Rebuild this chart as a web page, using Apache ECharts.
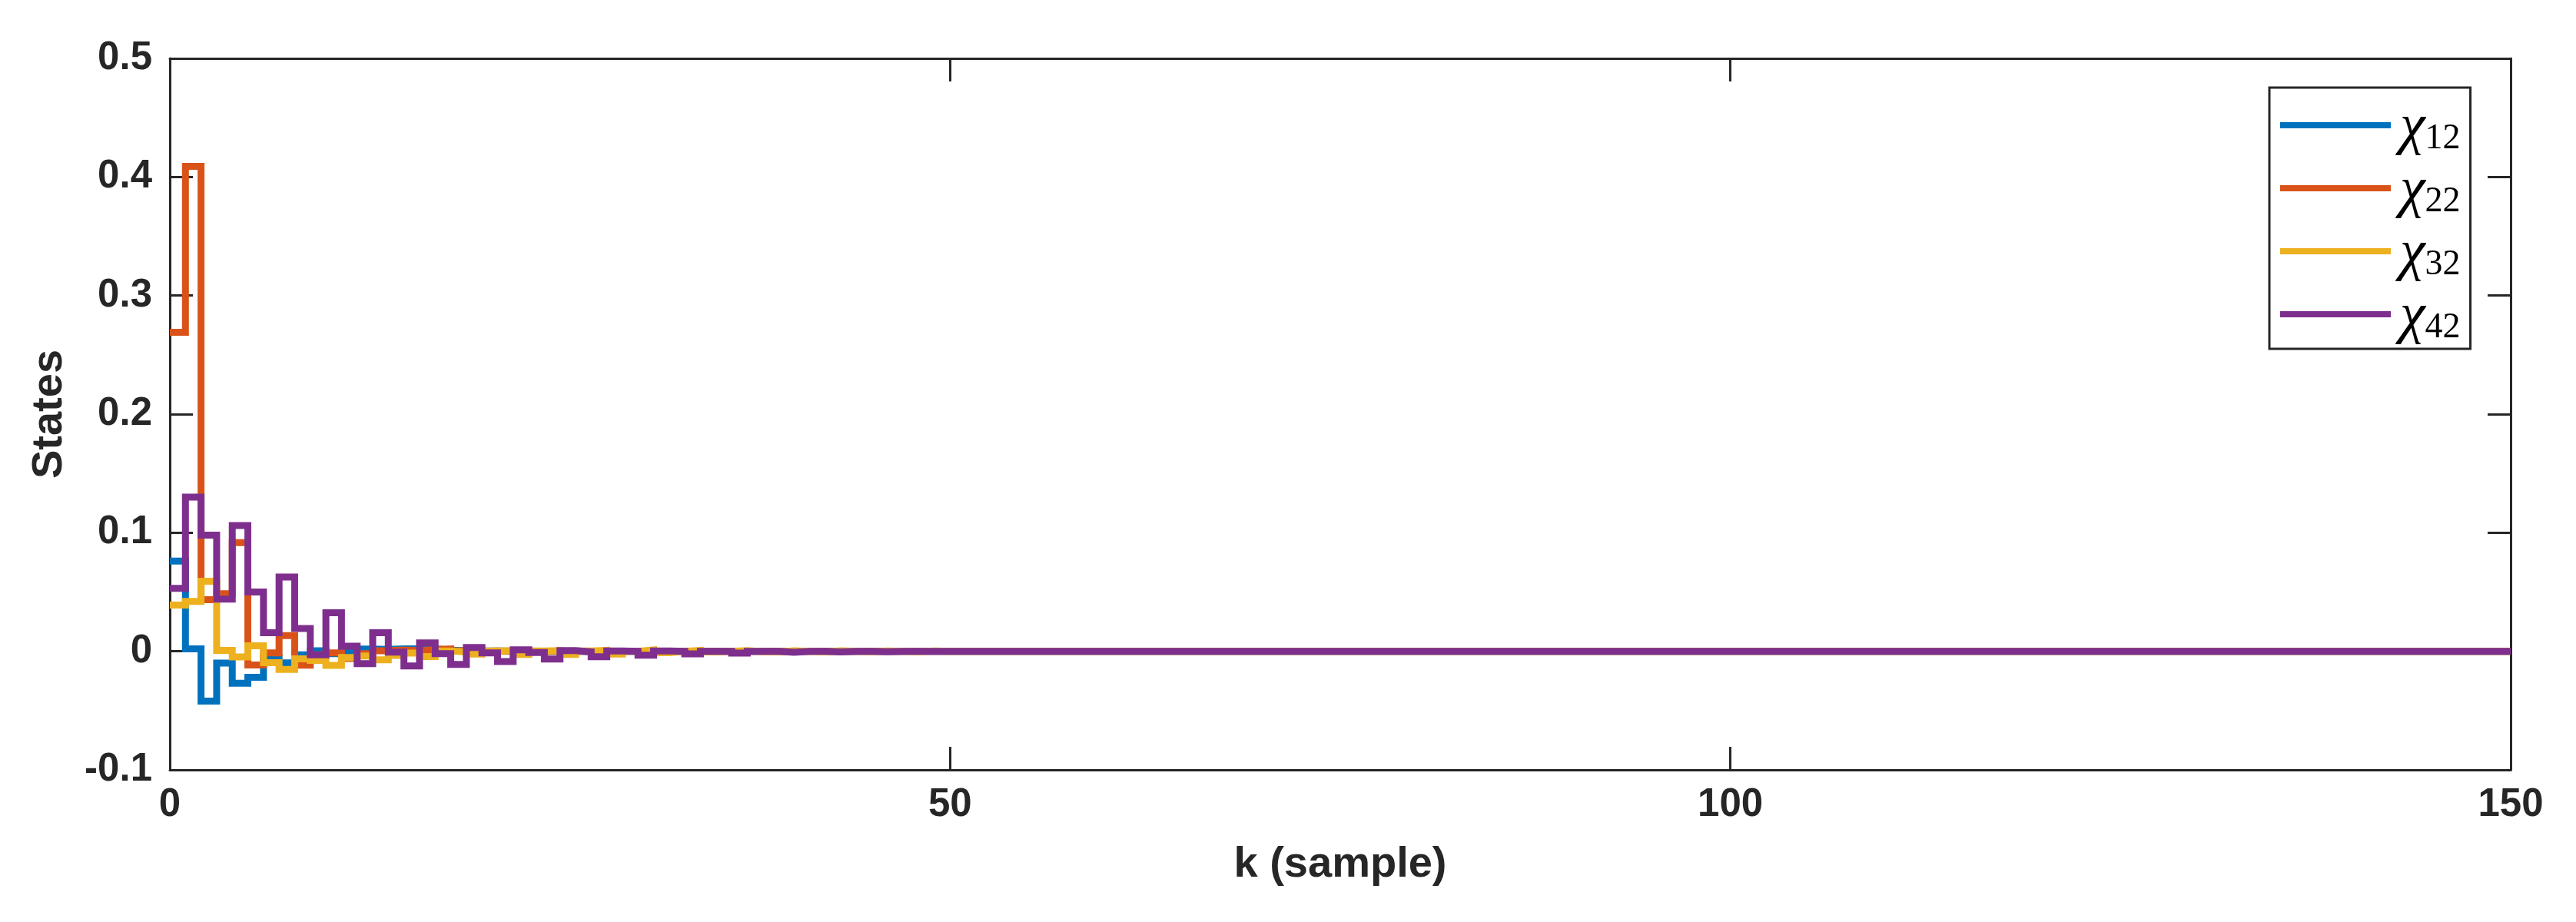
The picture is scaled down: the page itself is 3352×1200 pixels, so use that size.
<!DOCTYPE html>
<html>
<head>
<meta charset="utf-8">
<script src="https://cdn.jsdelivr.net/npm/echarts@6/dist/echarts.min.js"></script>
<style>
html,body{margin:0;padding:0;background:#fff;}
#chart{width:3352px;height:1200px;}
</style>
</head>
<body>
<div id="chart"></div>
<script>
// sample index k = 0..150
const seriesNames = ['χ12', 'χ22', 'χ32', 'χ42'];
const xTicks = [0, 50, 100, 150];
const yTicks = [-0.1, 0, 0.1, 0.2, 0.3, 0.4, 0.5];

const x12 = [
  0.076, 0.002, -0.042, -0.010, -0.027, -0.022, -0.0055, -0.0098, -0.003, 0.0005,
  -0.002, -0.0002, 0.0019, 0.0015, 0.002, 0.002, 0.002, 0.001, 0.0005, 0.0003,
  0.0002, 0.0001, 0, 0, 0, 0, 0, 0, 0, 0,
  0, 0, 0, 0, 0, 0, 0, 0, 0, 0,
  0, 0, 0, 0, 0, 0, 0, 0, 0, 0,
  0, 0, 0, 0, 0, 0, 0, 0, 0, 0,
  0, 0, 0, 0, 0, 0, 0, 0, 0, 0,
  0, 0, 0, 0, 0, 0, 0, 0, 0, 0,
  0, 0, 0, 0, 0, 0, 0, 0, 0, 0,
  0, 0, 0, 0, 0, 0, 0, 0, 0, 0,
  0, 0, 0, 0, 0, 0, 0, 0, 0, 0,
  0, 0, 0, 0, 0, 0, 0, 0, 0, 0,
  0, 0, 0, 0, 0, 0, 0, 0, 0, 0,
  0, 0, 0, 0, 0, 0, 0, 0, 0, 0,
  0, 0, 0, 0, 0, 0, 0, 0, 0, 0,
  0
];
const x22 = [
  0.269, 0.409, 0.0435, 0.0485, 0.0916, -0.0115, -0.0014, 0.0133, -0.0117, -0.003,
  -0.0014, -0.006, -0.002, 0.0005, 0.001, 0.0005, 0.0015, 0.002, 0.0005, 0,
  0.0003, 0, 0.0002, 0, 0, 0, 0, 0, 0, 0,
  0, 0, 0, 0, 0, 0, 0, 0, 0, 0,
  0, 0, 0, 0, 0, 0, 0, 0, 0, 0,
  0, 0, 0, 0, 0, 0, 0, 0, 0, 0,
  0, 0, 0, 0, 0, 0, 0, 0, 0, 0,
  0, 0, 0, 0, 0, 0, 0, 0, 0, 0,
  0, 0, 0, 0, 0, 0, 0, 0, 0, 0,
  0, 0, 0, 0, 0, 0, 0, 0, 0, 0,
  0, 0, 0, 0, 0, 0, 0, 0, 0, 0,
  0, 0, 0, 0, 0, 0, 0, 0, 0, 0,
  0, 0, 0, 0, 0, 0, 0, 0, 0, 0,
  0, 0, 0, 0, 0, 0, 0, 0, 0, 0,
  0, 0, 0, 0, 0, 0, 0, 0, 0, 0,
  0
];
const x32 = [
  0.039, 0.042, 0.059, 0.0008, -0.0048, 0.0047, -0.0096, -0.0152, -0.0063, -0.0076,
  -0.0118, -0.0053, -0.004, -0.0072, -0.0035, -0.0015, -0.0045, 0.0003, -0.0005, -0.0023,
  0.0003, 0.0006, -0.0027, 0.0003, 0.0006, -0.0026, 0.0002, 0.0008, -0.0024, 0,
  0.0012, -0.0012, 0, 0.0008, -0.0006, 0, 0.0006, -0.0004, -0.0005, 0.0005,
  0, -0.0005, 0.0004, 0, -0.0004, 0.0003, 0, -0.0003, 0.0003, 0,
  0, 0, 0, 0, 0, 0, 0, 0, 0, 0,
  0, 0, 0, 0, 0, 0, 0, 0, 0, 0,
  0, 0, 0, 0, 0, 0, 0, 0, 0, 0,
  0, 0, 0, 0, 0, 0, 0, 0, 0, 0,
  0, 0, 0, 0, 0, 0, 0, 0, 0, 0,
  0, 0, 0, 0, 0, 0, 0, 0, 0, 0,
  0, 0, 0, 0, 0, 0, 0, 0, 0, 0,
  0, 0, 0, 0, 0, 0, 0, 0, 0, 0,
  0, 0, 0, 0, 0, 0, 0, 0, 0, 0,
  0, 0, 0, 0, 0, 0, 0, 0, 0, 0,
  0
];
const x42 = [
  0.053, 0.130, 0.098, 0.044, 0.106, 0.050, 0.0157, 0.0627, 0.0193, -0.0029,
  0.0325, 0.0044, -0.0104, 0.0157, -0.0007, -0.0124, 0.007, -0.002, -0.011, 0.0032,
  -0.0014, -0.0087, 0.0012, -0.001, -0.0066, 0.0006, -0.0005, -0.0046, 0.0002, 0,
  -0.0033, 0.0002, 0, -0.0022, 0, 0, -0.0015, 0, 0, -0.0008,
  0, 0, -0.0006, 0, 0, -0.0003, 0, 0, 0, 0,
  0, 0, 0, 0, 0, 0, 0, 0, 0, 0,
  0, 0, 0, 0, 0, 0, 0, 0, 0, 0,
  0, 0, 0, 0, 0, 0, 0, 0, 0, 0,
  0, 0, 0, 0, 0, 0, 0, 0, 0, 0,
  0, 0, 0, 0, 0, 0, 0, 0, 0, 0,
  0, 0, 0, 0, 0, 0, 0, 0, 0, 0,
  0, 0, 0, 0, 0, 0, 0, 0, 0, 0,
  0, 0, 0, 0, 0, 0, 0, 0, 0, 0,
  0, 0, 0, 0, 0, 0, 0, 0, 0, 0,
  0, 0, 0, 0, 0, 0, 0, 0, 0, 0,
  0
];

const allValues = [x12, x22, x32, x42];
const colors = ['#0072BD', '#D95319', '#EDB120', '#7E2F8E'];

const axisColor = '#262626';
const labelFont = { fontFamily: 'Liberation Sans', fontWeight: 'bold', fontSize: 51, color: axisColor };
const nameFont = { fontFamily: 'Liberation Sans', fontWeight: 'bold', fontSize: 56, color: axisColor };

function boxAxis(extra) {
  return Object.assign({
    type: 'value',
    axisLine: { show: true, onZero: false, lineStyle: { color: axisColor, width: 3 } },
    axisTick: { show: true, inside: true, length: 30, lineStyle: { color: axisColor, width: 3 } },
    splitLine: { show: false }
  }, extra);
}

const chart = echarts.init(document.getElementById('chart'), null, { renderer: 'canvas' });
chart.setOption({
  animation: false,
  backgroundColor: '#ffffff',
  grid: { left: 221, top: 76, right: 85, bottom: 198 },
  xAxis: [
    boxAxis({
      position: 'bottom', min: xTicks[0], max: xTicks[xTicks.length - 1], interval: 50,
      axisLabel: Object.assign({ margin: 20, showMinLabel: true, showMaxLabel: true }, labelFont),
      name: 'k (sample)', nameLocation: 'middle', nameGap: 96, nameTextStyle: nameFont
    }),
    boxAxis({
      position: 'top', min: xTicks[0], max: xTicks[xTicks.length - 1], interval: 50,
      axisLabel: { show: false }
    })
  ],
  yAxis: [
    boxAxis({
      position: 'left', min: yTicks[0], max: yTicks[yTicks.length - 1], interval: 0.1,
      axisLabel: Object.assign({ margin: 23, showMinLabel: true, showMaxLabel: true,
        formatter: v => String(Math.round(v * 10) / 10) }, labelFont),
      name: 'States', nameLocation: 'middle', nameGap: 128, nameTextStyle: nameFont
    }),
    boxAxis({
      position: 'right', min: yTicks[0], max: yTicks[yTicks.length - 1], interval: 0.1,
      axisLabel: { show: false }
    })
  ],
  legend: {
    orient: 'vertical',
    left: 2953, top: 114,
    padding: [16, 13, 4, 14],
    itemWidth: 144, itemHeight: 8, itemGap: 8,
    icon: 'rect',
    borderColor: axisColor, borderWidth: 3,
    backgroundColor: '#ffffff',
    selectedMode: false,
    data: seriesNames,
    formatter: n => '{c|χ}{n|' + n.slice(1) + '}',
    textStyle: {
      padding: [26, 0, 0, 7],
      rich: {
        c: { fontFamily: 'Liberation Serif', fontStyle: 'italic', fontSize: 74, color: '#000',
             lineHeight: 56, verticalAlign: 'bottom' },
        n: { fontFamily: 'Liberation Serif', fontSize: 46, color: '#000',
             lineHeight: 12, verticalAlign: 'bottom' }
      }
    }
  },
  series: seriesNames.map((name, i) => ({
    name: name,
    type: 'line',
    step: 'end',
    symbol: 'none',
    showSymbol: false,
    color: colors[i],
    lineStyle: { width: 9, color: colors[i], join: 'miter', cap: 'butt' },
    data: allValues[i].map((v, k) => [k, v])
  }))
});
</script>
</body>
</html>
